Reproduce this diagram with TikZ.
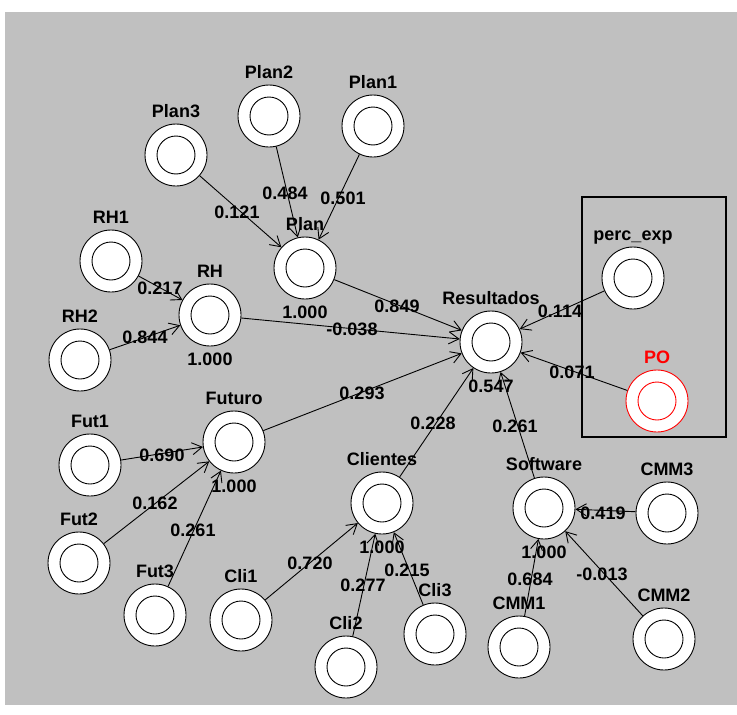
\documentclass[tikz,border=0pt]{standalone}
\usepackage{fontspec}
\setmainfont{Liberation Sans}
\usetikzlibrary{arrows.meta}
\definecolor{panel}{HTML}{C0C0C0}

\begin{document}
\begin{tikzpicture}[x=1pt,y=-1pt,>={Straight Barb[length=10pt,width=12pt]},font=\fontsize{18}{20}\selectfont\bfseries,
  lv/.style={circle,draw=#1,fill=white,line width=0.9pt,minimum size=62pt,inner sep=0pt,
    path picture={\draw[#1,line width=0.9pt] (path picture bounding box.center) circle (19pt);}},
  lv/.default=black,
  lbl/.style={inner sep=2pt,text depth=4pt},
  nm/.style={label={[lbl]above:#1}},
  sc/.style={label={[lbl,label distance=4pt]below:#1}},
  lnk/.style={->,line width=0.9pt}]
\useasboundingbox (0,0) rectangle (737,715);
\fill[panel] (5,12) rectangle (737,705);
\draw[line width=1.8pt] (582,197) rectangle (726,437);
\node[lv,nm=Plan3] (p3) at (176,155) {};
\node[lv,nm=Plan2] (p2) at (269,116) {};
\node[lv,nm=Plan1] (p1) at (373,126) {};
\node[lv,nm=Plan,sc=1.000] (pl) at (305,268) {};
\node[lv,nm=RH1] (r1) at (111,261) {};
\node[lv,nm=RH,sc=1.000] (rh) at (210,315) {};
\node[lv,nm=RH2] (r2) at (80,360) {};
\node[lv,nm=Resultados,sc=0.547] (res) at (491,342) {};
\node[lv,nm=perc\_exp] (pe) at (633,278) {};
\node[lv=red,label={[lbl,red]above:PO}] (po) at (657,401) {};
\node[lv,nm=Futuro,sc=1.000] (fu) at (234,442) {};
\node[lv,nm=Fut1] (f1) at (90,465) {};
\node[lv,nm=Fut2] (f2) at (79,563) {};
\node[lv,nm=Fut3] (f3) at (155,615) {};
\node[lv,nm=Cli1] (c1) at (241,620) {};
\node[lv,nm=Clientes,sc=1.000] (cl) at (382,503) {};
\node[lv,nm=Cli2] (c2) at (346,667) {};
\node[lv,nm=Cli3] (c3) at (435,634) {};
\node[lv,nm=Software,sc=1.000] (sw) at (544,508) {};
\node[lv,nm=CMM3] (m3) at (667,513) {};
\node[lv,nm=CMM1] (m1) at (519,647) {};
\node[lv,nm=CMM2] (m2) at (664,639) {};
\draw[lnk] (p3) -- (pl) node at (237,212) {0.121};
\draw[lnk] (p2) -- (pl) node at (285,193) {0.484};
\draw[lnk] (p1) -- (pl) node at (343,198) {0.501};
\draw[lnk] (r1) -- (rh) node at (160,288) {0.217};
\draw[lnk] (r2) -- (rh) node at (145,337) {0.844};
\draw[lnk] (pl) -- (res) node at (397,306) {0.849};
\draw[lnk] (rh) -- (res) node at (352,329) {-0.038};
\draw[lnk] (pe) -- (res) node at (560,311) {0.114};
\draw[lnk] (po) -- (res) node at (572,372) {0.071};
\draw[lnk] (fu) -- (res) node at (362,393) {0.293};
\draw[lnk] (cl) -- (res) node at (433,423) {0.228};
\draw[lnk] (sw) -- (res) node at (515,426) {0.261};
\draw[lnk] (f1) -- (fu) node at (162,455) {0.690};
\draw[lnk] (f2) -- (fu) node at (155,503) {0.162};
\draw[lnk] (f3) -- (fu) node at (193,530) {0.261};
\draw[lnk] (c1) -- (cl) node at (310,563) {0.720};
\draw[lnk] (c2) -- (cl) node at (363,585) {0.277};
\draw[lnk] (c3) -- (cl) node at (407,570) {0.215};
\draw[lnk] (m1) -- (sw) node at (530,579) {0.684};
\draw[lnk] (m3) -- (sw) node at (603,513) {0.419};
\draw[lnk] (m2) -- (sw) node at (602,574) {-0.013};
\end{tikzpicture}
\end{document}
